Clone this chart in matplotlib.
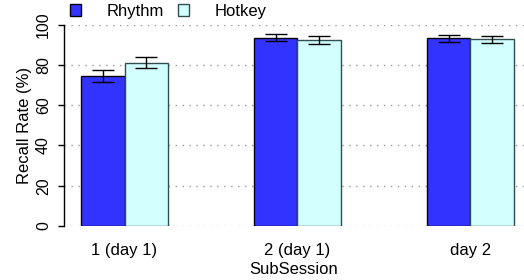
import matplotlib
matplotlib.use("Agg")
import matplotlib.pyplot as plt
from matplotlib.patches import Patch
import numpy as np

plt.rcParams['font.family'] = ['Liberation Sans', 'DejaVu Sans']

categories = ["1 (day 1)", "2 (day 1)", "day 2"]
series_names = ["Rhythm", "Hotkey"]
rhythm = [74.3, 93.4, 93.2]
rhythm_err = [3.0, 1.7, 1.8]
hotkey = [81.0, 92.4, 92.6]
hotkey_err = [2.7, 1.9, 1.9]
yticks = [0, 20, 40, 60, 80, 100]

fig = plt.figure(figsize=(5.24, 2.8), dpi=100)
ax = fig.add_axes([64/524, 54/280, 1 - 64/524, 201.5/280])

centers = np.arange(len(categories)) * 4.0
for y in yticks:
    ax.axhline(y, color='#999999', lw=1.0, ls=(0, (1, 4)), zorder=0)

ax.bar(centers - 0.5, rhythm, width=1.0, color='#3333FF', edgecolor='black', lw=1.0, zorder=2)
ax.bar(centers + 0.5, hotkey, width=1.0, color='#D2FFFF', edgecolor='#2F4F4F', lw=1.0, zorder=2)
ax.errorbar(centers - 0.5, rhythm, yerr=rhythm_err, fmt='none', ecolor='black',
            elinewidth=1.0, capsize=8, capthick=1.0, zorder=3, clip_on=False)
ax.errorbar(centers + 0.5, hotkey, yerr=hotkey_err, fmt='none', ecolor='black',
            elinewidth=1.0, capsize=8, capthick=1.0, zorder=3, clip_on=False)

ax.set_xlim(centers[0] - 1.4, centers[-1] + 1.24)
ax.set_ylim(0, 100)
for s in ['top', 'right', 'bottom']:
    ax.spines[s].set_visible(False)
ax.spines['left'].set_linewidth(1.0)
ax.set_yticks(yticks)
ax.set_yticklabels([str(v) for v in yticks], rotation=90, va='center', fontsize=11.5)
ax.tick_params(axis='y', length=4.3, width=1.0, pad=5)
ax.set_xticks(centers)
ax.set_xticklabels(categories, fontsize=12)
ax.tick_params(axis='x', length=0, pad=12)
ax.set_ylabel("Recall Rate (%)", fontsize=12, labelpad=3)
ax.set_xlabel("SubSession", fontsize=12, labelpad=3)

handles = [Patch(facecolor='#3333FF', edgecolor='black', lw=1.0),
           Patch(facecolor='#D2FFFF', edgecolor='#2F4F4F', lw=1.0)]
fig.legend(handles, series_names, loc='upper left', bbox_to_anchor=(69/524, 1 - 3/280),
           ncol=2, frameon=False, fontsize=12, handlelength=0.65, handleheight=0.65,
           handletextpad=1.55, columnspacing=0.85, borderaxespad=0.0, borderpad=0.05)

fig.savefig("out.png", dpi=100)
